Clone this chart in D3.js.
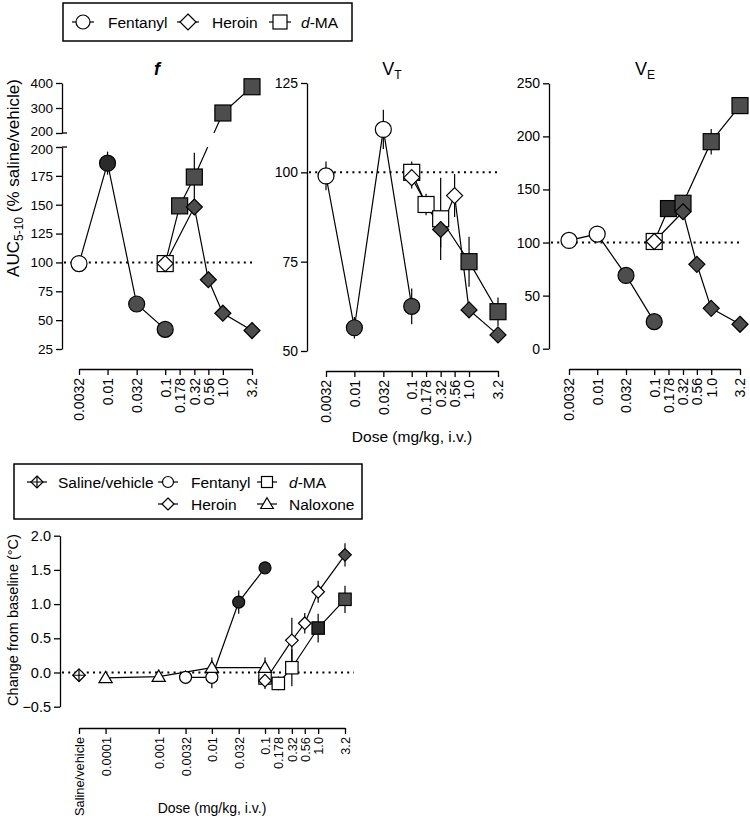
<!DOCTYPE html>
<html><head><meta charset="utf-8">
<script src="https://cdn.jsdelivr.net/npm/d3@7"></script>
<style>
body{margin:0;background:#fff;}
svg text{font-family:"Liberation Sans",Arial,Helvetica,sans-serif;fill:#000;}
</style></head><body>
<svg id="c" width="750" height="823"></svg>
<script>
// ---------------- DATA ----------------
const doseTicks = [0.0032, 0.01, 0.032, 0.1, 0.178, 0.32, 0.56, 1.0, 3.2];
const doseTickLabels = ["0.0032", "0.01", "0.032", "0.1", "0.178", "0.32", "0.56", "1.0", "3.2"];
const fentanylDoses = [0.0032, 0.01, 0.032, 0.1];
const heroinDoses = [0.1, 0.32, 0.56, 1.0, 3.2];
const dmaDoses = [0.1, 0.178, 0.32, 1.0, 3.2];

// f panel (AUC % saline/vehicle)
const fFentanyl = [99, 186, 64, 42];
const fFentanylErr = [0, 10, 0, 0];
const fFentanylFill = ["open", "dark", "filled", "filled"];
const fHeroin = [99, 148, 85, 56, 41];
const fHeroinErr = [0, 0, 0, 0, 0];
const fHeroinFill = ["open", "filled", "filled", "filled", "filled"];
const fDma = [99, 149, 174, 280, 385];
const fDmaErr = [0, 0, 21, 0, 0];
const fDmaFill = ["open", "filled", "filled", "filled", "filled"];
const fTicksLow = [25, 50, 75, 100, 125, 150, 175, 200];
const fTicksHigh = [200, 300, 400];

// VT panel
const vtFentanyl = [99, 56.5, 112, 62.5];
const vtFentanylErr = [4, 3, 5.5, 5];
const vtFentanylFill = ["open", "filled", "open", "filled"];
const vtHeroin = [98.5, 84, 93.5, 61.5, 54.5];
const vtHeroinErr = [3, 5, 6, 0, 0];
const vtHeroinFill = ["open", "filled", "open", "filled", "filled"];
const vtDma = [100, 91, 87, 75, 61];
const vtDmaErr = [3, 3, 11.5, 7, 4];
const vtDmaFill = ["open", "open", "open", "filled", "filled"];
const vtTicks = [50, 75, 100, 125];

// VE panel
const veFentanyl = [102, 108, 69, 25.5];
const veFentanylErr = [0, 0, 0, 0];
const veFentanylFill = ["open", "open", "filled", "filled"];
const veHeroin = [101, 129, 79.5, 38, 23];
const veHeroinErr = [0, 0, 0, 0, 0];
const veHeroinFill = ["open", "filled", "filled", "filled", "filled"];
const veDma = [101, 132, 137, 195, 229];
const veDmaErr = [0, 0, 6, 12, 8];
const veDmaFill = ["open", "dark", "filled", "filled", "filled"];
const veTicks = [0, 50, 100, 150, 200, 250];

// Temperature panel (change from baseline, °C)
const salinePos = Math.pow(10, -4.5);
const tempTicks = [salinePos, 0.0001, 0.001, 0.0032, 0.01, 0.032, 0.1, 0.178, 0.32, 0.56, 1.0, 3.2];
const tempTickLabels = ["Saline/vehicle", "0.0001", "0.001", "0.0032", "0.01", "0.032", "0.1", "0.178", "0.32", "0.56", "1.0", "3.2"];
const tSaline = [-0.04];
const tSalineDoses = [salinePos];
const naloxoneDoses = [0.0001, 0.001, 0.01, 0.1];
const tNaloxone = [-0.08, -0.06, 0.07, 0.07];
const tNaloxoneErr = [0, 0, 0.15, 0.15];
const tNaloxoneFill = ["open", "open", "open", "open"];
const tFentanyl = [-0.07, -0.07, 1.03, 1.53];
const tFentanylErr = [0.1, 0.16, 0.17, 0];
const tFentanylFill = ["open", "open", "dark", "dark"];
const tHeroin = [-0.12, 0.47, 0.72, 1.18, 1.72];
const tHeroinErr = [0.12, 0.33, 0.15, 0.16, 0.17];
const tHeroinFill = ["open", "open", "open", "open", "filled"];
const tDma = [-0.08, -0.16, 0.07, 0.65, 1.07];
const tDmaErr = [0.1, 0.1, 0.27, 0.21, 0.2];
const tDmaFill = ["open", "open", "open", "dark", "filled"];
const tempYTicks = [-0.5, 0.0, 0.5, 1.0, 1.5, 2.0];

// ---------------- DRAWING ----------------
const svg = d3.select("#c");
const FILL = {open: "#ffffff", filled: "#4d4d4d", dark: "#2b2b2b"};
const FONT = '"Liberation Sans",Arial,Helvetica,sans-serif';

function drawMarker(g, shape, cx, cy, s, fill) {
  const m = g.append("g").attr("transform", `translate(${cx},${cy})`)
    .attr("stroke", "#000").attr("stroke-width", 1.2).attr("fill", fill);
  if (shape === "circle") m.append("circle").attr("r", s);
  else if (shape === "square") m.append("rect").attr("x", -s).attr("y", -s).attr("width", 2 * s).attr("height", 2 * s);
  else if (shape === "diamond") m.append("path").attr("d", `M0,${-s}L${s},0L0,${s}L${-s},0Z`);
  else if (shape === "triangle") m.append("path").attr("d", `M0,${-s * 1.05}L${s * 1.05},${s * 0.75}L${-s * 1.05},${s * 0.75}Z`);
  else if (shape === "saline") {
    m.append("path").attr("d", `M0,${-s}L${s},0L0,${s}L${-s},0Z`);
    m.append("path").attr("fill", "none").attr("d", `M0,${-s}V${s}M${-s},0H${s}`);
  }
}

function drawSeries(g, x, y, series, sizes, clip) {
  const lineG = g.append("g");
  if (clip) lineG.attr("clip-path", clip);
  series.forEach(s => {
    if (s.doses.length < 2) return;
    const pts = s.doses.map((d, i) => [x(d), y(s.vals[i])]);
    lineG.append("path").attr("d", d3.line()(pts)).attr("fill", "none")
      .attr("stroke", "#000").attr("stroke-width", 1.2);
  });
  const errG = g.append("g");
  series.forEach(s => {
    if (!s.errs) return;
    s.doses.forEach((d, i) => {
      const e = s.errs[i];
      if (e > 0) errG.append("line").attr("x1", x(d)).attr("x2", x(d))
        .attr("y1", y(s.vals[i] - e)).attr("y2", y(s.vals[i] + e))
        .attr("stroke", "#000").attr("stroke-width", 1.2);
    });
  });
  const mG = g.append("g");
  series.forEach(s => {
    s.doses.forEach((d, i) => drawMarker(mG, s.shape, x(d), y(s.vals[i]), sizes[s.shape], FILL[s.fills[i]]));
  });
}

function styleAxis(a, fs) {
  a.attr("font-family", FONT).attr("font-size", fs);
  a.selectAll("path,line").attr("stroke", "#000").attr("stroke-width", 1.3);
  a.selectAll("text").attr("fill", "#000");
}

function xAxis(x, yPos, ticks, labels, fs) {
  const ax = d3.axisBottom(x).tickValues(ticks)
    .tickFormat(d => labels[ticks.indexOf(d)]).tickSize(6).tickSizeOuter(0);
  const a = svg.append("g").attr("transform", `translate(0,${yPos})`).call(ax);
  styleAxis(a, fs);
  a.selectAll("text").attr("transform", "rotate(-90)").attr("x", -9).attr("y", 0)
    .attr("dy", "0.35em").style("text-anchor", "end");
  return a;
}

function yAxis(y, xPos, ticks, fmt, fs) {
  const ax = d3.axisLeft(y).tickValues(ticks).tickFormat(fmt).tickSize(6).tickSizeOuter(0).tickPadding(3);
  const a = svg.append("g").attr("transform", `translate(${xPos},0)`).call(ax);
  styleAxis(a, fs);
  return a;
}

function refLine(x1, x2, yv) {
  svg.append("line").attr("x1", x1).attr("x2", x2).attr("y1", yv).attr("y2", yv)
    .attr("stroke", "#000").attr("stroke-width", 2).attr("stroke-dasharray", "2,4.2");
}

const topSizes = {circle: 8, square: 8, diamond: 8};
const botSizes = {circle: 6, square: 6.2, diamond: 6.3, triangle: 6.3, saline: 6.3};
const intFmt = d => d3.format("d")(d);

// ----- Panel f -----
{
  const x = d3.scaleLog().domain([0.0032, 3.2]).range([79, 252]);
  const yLow = d3.scaleLinear().domain([25, 200]).range([349, 147]);
  const yHigh = d3.scaleLinear().domain([200, 400]).range([133, 83]);
  const y = v => v <= 200 ? yLow(v) : yHigh(v);
  const defs = svg.append("defs");
  const cp = defs.append("clipPath").attr("id", "fclip");
  cp.append("rect").attr("x", 0).attr("y", 0).attr("width", 750).attr("height", 133);
  cp.append("rect").attr("x", 0).attr("y", 147).attr("width", 750).attr("height", 400);

  const ah = yAxis(yHigh, 62, fTicksHigh, intFmt, 13.5);
  const al = yAxis(yLow, 62, fTicksLow, intFmt, 13.5);
  // nudge the two "200" labels at the break apart so they do not collide
  ah.selectAll(".tick").filter(d => d === 200).select("text").attr("y", -2);
  al.selectAll(".tick").filter(d => d === 200).select("text").attr("y", 2);
  // break caps
  svg.append("line").attr("x1", 62).attr("x2", 67).attr("y1", 133).attr("y2", 133).attr("stroke", "#000").attr("stroke-width", 1.3);
  svg.append("line").attr("x1", 62).attr("x2", 67).attr("y1", 147).attr("y2", 147).attr("stroke", "#000").attr("stroke-width", 1.3);
  xAxis(x, 369, doseTicks, doseTickLabels, 14);
  refLine(64, 254, yLow(100));
  drawSeries(svg.append("g"), x, y, [
    {doses: dmaDoses, vals: fDma, errs: fDmaErr, fills: fDmaFill, shape: "square"},
    {doses: fentanylDoses, vals: fFentanyl, errs: fFentanylErr, fills: fFentanylFill, shape: "circle"},
    {doses: heroinDoses, vals: fHeroin, errs: fHeroinErr, fills: fHeroinFill, shape: "diamond"}
  ], topSizes, "url(#fclip)");
  svg.append("text").attr("x", 157).attr("y", 75).attr("text-anchor", "middle")
    .attr("font-size", 18).attr("font-style", "italic").attr("font-weight", "bold").text("f");
  const yt = svg.append("text").attr("transform", "translate(19,178) rotate(-90)")
    .attr("text-anchor", "middle").attr("font-size", 17);
  yt.append("tspan").text("AUC");
  yt.append("tspan").attr("font-size", 12).attr("dy", 4).text("5-10");
  yt.append("tspan").attr("dy", -4).text(" (% saline/vehicle)");
}

// ----- Panel VT -----
{
  const x = d3.scaleLog().domain([0.0032, 3.2]).range([326, 498]);
  const y = d3.scaleLinear().domain([50, 125]).range([351, 83]);
  yAxis(y, 307, vtTicks, intFmt, 14);
  xAxis(x, 371, doseTicks, doseTickLabels, 14);
  refLine(309, 500, y(100));
  drawSeries(svg.append("g"), x, y, [
    {doses: dmaDoses, vals: vtDma, errs: vtDmaErr, fills: vtDmaFill, shape: "square"},
    {doses: fentanylDoses, vals: vtFentanyl, errs: vtFentanylErr, fills: vtFentanylFill, shape: "circle"},
    {doses: heroinDoses, vals: vtHeroin, errs: vtHeroinErr, fills: vtHeroinFill, shape: "diamond"}
  ], topSizes, null);
  const t = svg.append("text").attr("x", 392).attr("y", 75).attr("text-anchor", "middle").attr("font-size", 18);
  t.append("tspan").text("V");
  t.append("tspan").attr("font-size", 12).attr("dy", 4).text("T");
}

// ----- Panel VE -----
{
  const x = d3.scaleLog().domain([0.0032, 3.2]).range([569, 740]);
  const y = d3.scaleLinear().domain([0, 250]).range([348.7, 83.3]);
  yAxis(y, 549, veTicks, intFmt, 14);
  xAxis(x, 369, doseTicks, doseTickLabels, 14);
  refLine(551, 742, y(100));
  drawSeries(svg.append("g"), x, y, [
    {doses: dmaDoses, vals: veDma, errs: veDmaErr, fills: veDmaFill, shape: "square"},
    {doses: fentanylDoses, vals: veFentanyl, errs: veFentanylErr, fills: veFentanylFill, shape: "circle"},
    {doses: heroinDoses, vals: veHeroin, errs: veHeroinErr, fills: veHeroinFill, shape: "diamond"}
  ], topSizes, null);
  const t = svg.append("text").attr("x", 645).attr("y", 75).attr("text-anchor", "middle").attr("font-size", 18);
  t.append("tspan").text("V");
  t.append("tspan").attr("font-size", 12).attr("dy", 4).text("E");
}

svg.append("text").attr("x", 412).attr("y", 442).attr("text-anchor", "middle")
  .attr("font-size", 15.5).text("Dose (mg/kg, i.v.)");

// ----- Top legend -----
{
  svg.append("rect").attr("x", 63).attr("y", 3).attr("width", 289).attr("height", 38)
    .attr("fill", "none").attr("stroke", "#000").attr("stroke-width", 1.5);
  const items = [
    {shape: "circle", mx: 83, tx: 108, label: "Fentanyl"},
    {shape: "diamond", mx: 188, tx: 212, label: "Heroin"},
    {shape: "square", mx: 280, tx: 301, label: "d-MA"}
  ];
  const lg = svg.append("g");
  items.forEach(it => {
    lg.append("line").attr("x1", it.mx - 11).attr("x2", it.mx + 11).attr("y1", 22).attr("y2", 22)
      .attr("stroke", "#000").attr("stroke-width", 1.2);
    drawMarker(lg, it.shape, it.mx, 22, it.shape === "diamond" ? 8 : 7, "#fff");
    const t = lg.append("text").attr("x", it.tx).attr("y", 28).attr("font-size", 15.5);
    if (it.label === "d-MA") { t.append("tspan").attr("font-style", "italic").text("d"); t.append("tspan").text("-MA"); }
    else t.text(it.label);
  });
}

// ----- Temperature panel -----
{
  const x = d3.scaleLog().domain([salinePos, 3.2]).range([79, 345]);
  const y = d3.scaleLinear().domain([-0.5, 2.0]).range([706.7, 535.7]);
  yAxis(y, 60, tempYTicks, d3.format(".1f"), 14.5);
  xAxis(x, 728, tempTicks, tempTickLabels, 12.8);
  refLine(62, 354, y(0));
  drawSeries(svg.append("g"), x, y, [
    {doses: dmaDoses, vals: tDma, errs: tDmaErr, fills: tDmaFill, shape: "square"},
    {doses: fentanylDoses, vals: tFentanyl, errs: tFentanylErr, fills: tFentanylFill, shape: "circle"},
    {doses: naloxoneDoses, vals: tNaloxone, errs: tNaloxoneErr, fills: tNaloxoneFill, shape: "triangle"},
    {doses: heroinDoses, vals: tHeroin, errs: tHeroinErr, fills: tHeroinFill, shape: "diamond"},
    {doses: tSalineDoses, vals: tSaline, errs: [0], fills: ["open"], shape: "saline"}
  ], botSizes, null);
  svg.append("text").attr("transform", "translate(18,620) rotate(-90)").attr("text-anchor", "middle")
    .attr("font-size", 14.5).text("Change from baseline (°C)");
  svg.append("text").attr("x", 212).attr("y", 813).attr("text-anchor", "middle")
    .attr("font-size", 14).text("Dose (mg/kg, i.v.)");
}

// ----- Bottom legend -----
{
  svg.append("rect").attr("x", 14).attr("y", 464).attr("width", 348).attr("height", 55)
    .attr("fill", "none").attr("stroke", "#000").attr("stroke-width", 1.5);
  const items = [
    {shape: "saline", mx: 37, my: 482, tx: 58, label: "Saline/vehicle"},
    {shape: "circle", mx: 168, my: 482, tx: 191, label: "Fentanyl"},
    {shape: "square", mx: 267, my: 482, tx: 289, label: "d-MA"},
    {shape: "diamond", mx: 168, my: 504, tx: 191, label: "Heroin"},
    {shape: "triangle", mx: 267, my: 504, tx: 289, label: "Naloxone"}
  ];
  const lg = svg.append("g");
  items.forEach(it => {
    lg.append("line").attr("x1", it.mx - 10).attr("x2", it.mx + 10).attr("y1", it.my).attr("y2", it.my)
      .attr("stroke", "#000").attr("stroke-width", 1.2);
    drawMarker(lg, it.shape, it.mx, it.my, it.shape === "circle" || it.shape === "square" ? 5.5 : 6, "#fff");
    const t = lg.append("text").attr("x", it.tx).attr("y", it.my + 6).attr("font-size", 15.5);
    if (it.label === "d-MA") { t.append("tspan").attr("font-style", "italic").text("d"); t.append("tspan").text("-MA"); }
    else t.text(it.label);
  });
}
</script>
</body></html>
